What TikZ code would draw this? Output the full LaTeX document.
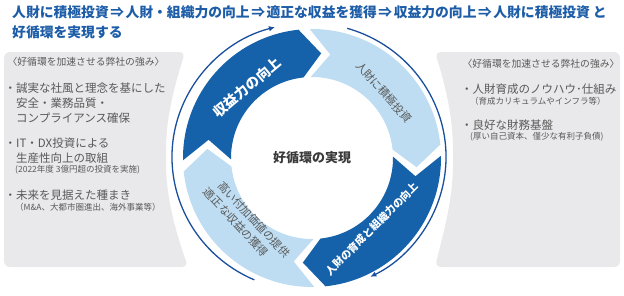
\documentclass[tikz,border=0pt]{standalone}
\usepackage{fontspec}
\setmainfont{Noto Sans CJK JP}
\usetikzlibrary{arrows.meta}
\definecolor{dblue}{HTML}{1662AA}
\definecolor{lblue}{HTML}{BEDDF2}
\definecolor{ttl}{HTML}{1D5DA8}
\definecolor{arcc}{HTML}{1A4F9E}
\definecolor{panel}{HTML}{E9E9EB}
\definecolor{ptext}{HTML}{595959}
\definecolor{ctext}{HTML}{3A3A3A}
\newcommand\ringseg[2]{%
  \fill[#2] (#1:129) arc[start angle=#1, end angle=#1-85, radius=129]
    -- (#1-96:105) -- (#1-85:81) arc[start angle=#1-85, end angle=#1, radius=81]
    -- (#1-11:105) -- cycle;}
\newcommand\tsp{\hspace{1.5pt}}
\begin{document}
\begin{tikzpicture}[x=1pt,y=-1pt,
  every node/.style={inner sep=0pt},
  ttlstyle/.style={font=\fontsize{13.8}{16}\selectfont\bfseries, text=ttl, anchor=west},
  hdr/.style={font=\fontsize{9.8}{11}\selectfont, text=ptext},
  itm/.style={font=\fontsize{11.5}{13}\selectfont, text=ptext, anchor=west},
  sml/.style={font=\fontsize{8.5}{10}\selectfont, text=ptext, anchor=west},
  arcline/.style={draw=arcc, line width=1.3pt, -{Latex[length=6pt,width=5.5pt]}},
  wlbl/.style={font=\bfseries, text=white},
  glbl/.style={text=ptext}]
\useasboundingbox (0,0) rectangle (624,295);
% panels
\fill[panel, rounded corners=6pt] (4,267) -- (4,52) -- (185,52)
  .. controls (175,85) and (166,115) .. (166,157)
  .. controls (166,200) and (177,235) .. (188,267) -- cycle;
\fill[panel, rounded corners=6pt] (620,267) -- (620,52) -- (435,52)
  .. controls (445,85) and (453,115) .. (453,157)
  .. controls (453,200) and (443,235) .. (435,267) -- cycle;
% title
\node[ttlstyle] (t1) at (12,12) {人財に積極投資\tsp{}⇒\tsp{}人財・組織力の向上\tsp{}⇒\tsp{}適正な収益を獲得\tsp{}⇒\tsp{}収益力の向上\tsp{}⇒\tsp{}人財に積極投資\hspace{3pt}と};
\node[ttlstyle] (t2) at (12,32) {好循環を実現する};
% left panel text
\node[hdr] (lh) at (86,62) {〈好循環を加速させる弊社の強み〉};
\node[itm] (l1) at (4.5,88) {・誠実な社風と理念を基にした};
\node[itm] (l2) at (16,103) {安全・業務品質・};
\node[itm] (l3) at (16,118) {コンプライアンス確保};
\node[itm] (l4) at (4.5,143) {・IT・DX投資による};
\node[itm] (l5) at (16,158) {生産性向上の取組};
\node[sml] (l6) at (15,170) {(2022年度 3億円超の投資を実施)};
\node[itm] (l7) at (4.5,195) {・未来を見据えた種まき};
\node[sml] (l8) at (15,207) {（M\&A、大都市圏進出、海外事業等）};
% right panel text
\node[hdr] (rh) at (541,64) {〈好循環を加速させる弊社の強み〉};
\node[itm] (r1) at (461,89) {・人財育成のノウハウ･仕組み};
\node[sml] (r2) at (470,101) {（育成カリキュラムやインフラ等）};
\node[itm] (r3) at (461,125) {・良好な財務基盤};
\node[sml] (r4) at (470,137) {(厚い自己資本、僅少な有利子負債)};
% ring
\begin{scope}[shift={(312,158)}, yscale=-1]
  \ringseg{181}{dblue}
  \ringseg{91}{lblue}
  \ringseg{1}{dblue}
  \ringseg{-89}{lblue}
  \draw[arcline] (-3,1) ++(-113.5:137 and 134) arc[start angle=-113.5, end angle=-255.6, x radius=137, y radius=134];
  \draw[arcline] (-3,1) ++(73.8:137 and 134) arc[start angle=73.8, end angle=-63.4, x radius=137, y radius=134];
\end{scope}
% ring labels
\node[wlbl, font=\fontsize{14}{16}\selectfont\bfseries, rotate=40] (s1) at (247,87) {収益力の向上};
\node[glbl, font=\fontsize{11}{13}\selectfont, rotate=-48] (s2) at (384,92) {人財に積極投資};
\node[wlbl, font=\fontsize{10.5}{12}\selectfont\bfseries, rotate=45] (s3) at (372,229) {人財の育成と組織力の向上};
\node[glbl, font=\fontsize{11}{15}\selectfont, rotate=-47, align=left] (s4) at (247,223) {\hspace{5pt}高い付加価値の提供\\適正な収益の獲得};
\node[font=\fontsize{13}{15}\selectfont\bfseries, text=ctext] (c) at (312,158) {好循環の実現};
\end{tikzpicture}
\end{document}
